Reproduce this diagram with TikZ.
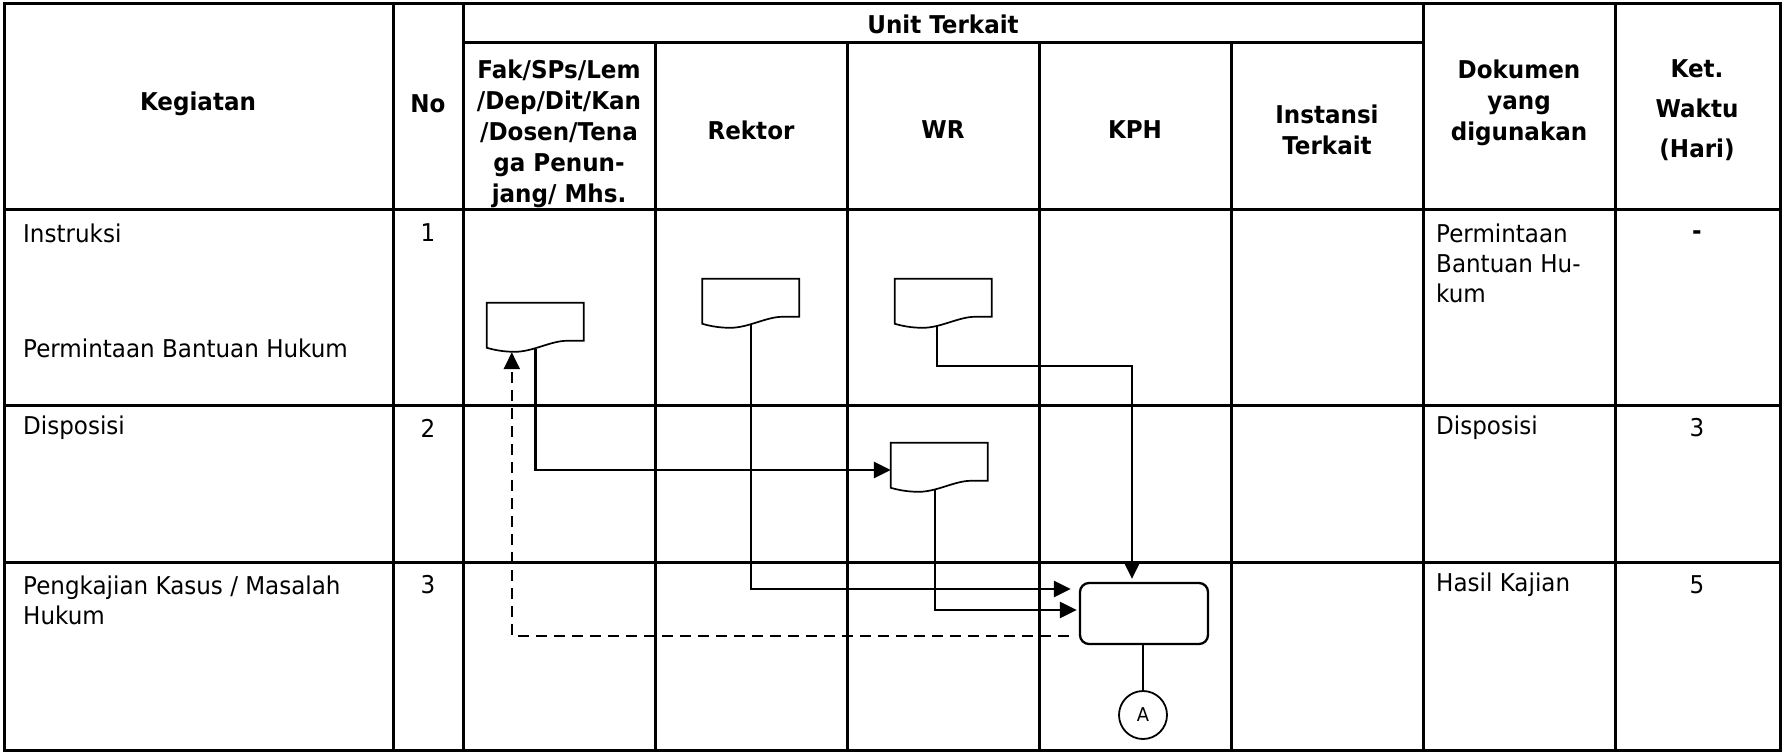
\documentclass[tikz,border=0pt]{standalone}
\usepackage{fontspec}
\setmainfont{DejaVu Sans}[FakeStretch=0.94]
\usetikzlibrary{arrows.meta,calc}
\newcommand\mydocshape[1]{\draw[docline,shift={(#1.north west)}] (0,0) -- (97,0) -- (97,38) -- (80,38) .. controls (64,38) and (46,49) .. (28,49) .. controls (16,49) and (7,47) .. (0,45) -- cycle;}
\begin{document}
\begin{tikzpicture}[x=1pt,y=-1pt,
  tline/.style={line width=3pt},
  conn/.style={line width=2.6pt},
  arr/.style={conn,-{Triangle[length=17pt,width=16pt]}},
  darr/.style={arr,dash pattern=on 11pt off 7pt},
  docnode/.style={minimum width=97pt,minimum height=46pt,inner sep=0pt,draw=none},
  docline/.style={line width=1.7pt},
  hd/.style={font=\bfseries\fontsize{24.5}{31}\selectfont,align=center,inner sep=0pt},
  bd/.style={font=\fontsize{24.5}{30}\selectfont,inner sep=0pt},
]
\useasboundingbox (0,0) rectangle (1782,752);
% table
\draw[tline] (4,4) rectangle (1780,750);
\draw[tline] (463,43) -- (1423,43);
\foreach \yy in {209,405,562} \draw[tline] (4,\yy) -- (1780,\yy);
\foreach \xx in {393,463,1423,1615} \draw[tline] (\xx,4) -- (\xx,750);
\foreach \xx in {655,847,1039,1231} \draw[tline] (\xx,43) -- (\xx,750);
% header
\node[hd] (hKeg) at (198,104) {Kegiatan};
\node[hd] (hNo) at (428,104) {No};
\node[hd] (hUnit) at (943,24) {Unit Terkait};
\node[hd] (hFak) at (559,134) {Fak/SPs/Lem\\/Dep/Dit/Kan\\/Dosen/Tena\\ga Penun-\\jang/ Mhs.};
\node[hd] (hRek) at (751,130) {Rektor};
\node[hd] (hWR) at (943,130) {WR};
\node[hd] (hKPH) at (1135,130) {KPH};
\node[hd] (hIns) at (1327,130) {Instansi\\Terkait};
\node[hd] (hDok) at (1519,103) {Dokumen\\yang\\digunakan};
\node[hd,font=\bfseries\fontsize{24.5}{40}\selectfont] (hKet) at (1697,110) {Ket.\\Waktu\\(Hari)};
% body text
\node[bd,anchor=west] (k1a) at (23,233) {Instruksi};
\node[bd,anchor=west] (k1b) at (23,348) {Permintaan Bantuan Hukum};
\node[bd,anchor=west] (k2) at (23,428) {Disposisi};
\node[bd,anchor=west,align=left] (k3) at (23,600) {Pengkajian Kasus / Masalah\\Hukum};
\node[bd] (n1) at (428,233) {1};
\node[bd] (n2) at (428,428) {2};
\node[bd] (n3) at (428,585) {3};
\node[bd,anchor=west,align=left] (d1) at (1436,263) {Permintaan\\Bantuan Hu-\\kum};
\node[bd,anchor=west] (d2) at (1436,428) {Disposisi};
\node[bd,anchor=west] (d3) at (1436,585) {Hasil Kajian};
\node[bd,font=\bfseries\fontsize{24.5}{30}\selectfont] (w1) at (1697,235) {-};
\node[bd] (w2) at (1697,428) {3};
\node[bd] (w3) at (1697,585) {5};
% flow shapes
\node[docnode] (fak) at (535.5,326) {};
\node[docnode] (rek) at (751,302) {};
\node[docnode] (wr1) at (943.5,302) {};
\node[docnode] (wr2) at (939.5,466) {};
\mydocshape{fak}
\mydocshape{rek}
\mydocshape{wr1}
\mydocshape{wr2}
\node[draw,rounded corners=9pt,minimum width=128pt,minimum height=61pt,line width=2.3pt,inner sep=0pt] (kph) at (1144,613.5) {};
\node[draw,circle,minimum size=48pt,line width=1.8pt,inner sep=0pt,font=\fontsize{19}{19}\selectfont] (cA) at (1143,715) {A};
% connectors
\coordinate (bend) at (1132,366);
\draw[arr] (fak.south) |- ($(wr2.west)+(0,4)$);
\draw[arr] (rek.south) |- ($(kph.west)+(-8,-24.5)$);
\draw[arr] ($(wr2.south)+(-4.5,0)$) |- ($(kph.west)+(-2,-3.5)$);
\draw[arr] ($(wr1.south)+(-6.5,0)$) |- (bend) -- ($(kph.north)+(-12,-3)$);
\draw[darr] ($(kph.west)+(-10,22.5)$) -| ($(fak.south west)+(25,3)$);
\draw[line width=1.6pt] (cA.north |- kph.south) -- (cA.north);
\end{tikzpicture}
\end{document}
